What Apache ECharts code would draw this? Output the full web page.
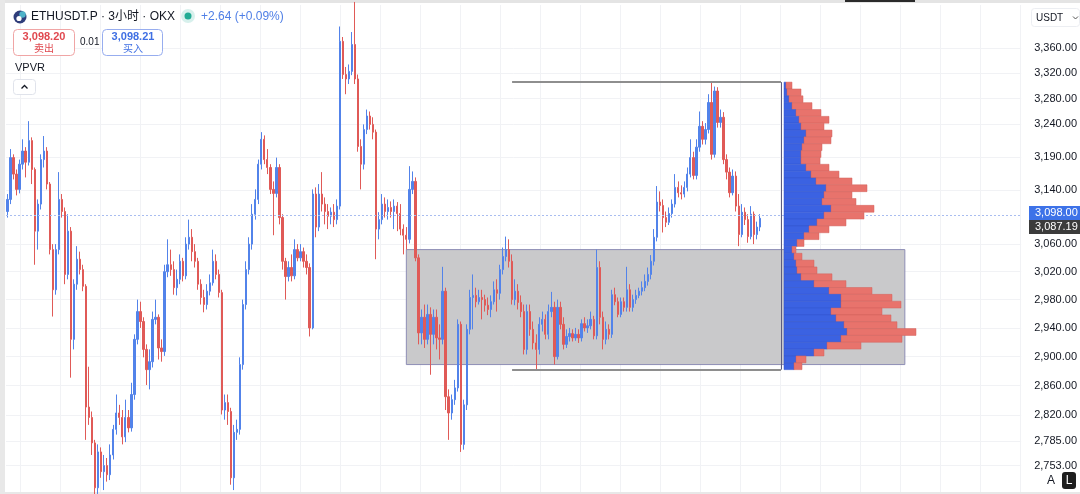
<!DOCTYPE html>
<html><head><meta charset="utf-8">
<script src="https://cdn.jsdelivr.net/npm/echarts@6/dist/echarts.min.js"></script>
<style>html,body{margin:0;padding:0;background:#fff}#c{width:1080px;height:494px}</style>
</head><body><div id="c"></div>
<script>
// ---- data: 3h candles [open, close, low, high] ----
const candles = [
[3108,3126,3099,3134],[3126,3189,3119,3202],[3189,3164,3156,3194],[3164,3141,3132,3171],[3141,3179,3135,3186],
[3179,3199,3171,3217],[3199,3182,3159,3205],[3182,3215,3177,3245],[3215,3171,3149,3220],[3171,3079,3030,3174],
[3079,3119,3052,3126],[3119,3186,3111,3194],[3186,3199,3174,3222],[3199,3149,3141,3205],[3149,3052,3045,3152],
[3052,2994,2956,3060],[2994,3052,2987,3060],[3052,3126,3045,3167],[3126,3108,3099,3134],[3108,3016,3002,3114],
[3016,3079,3009,3104],[3079,2924,2871,3085],[2924,3002,2910,3009],[3002,3038,2994,3057],[3038,3023,3016,3049],
[3023,2999,2992,3030],[2999,2831,2787,3002],[2831,2817,2807,2886],[2817,2783,2767,2825],[2783,2724,2715,2787],
[2724,2771,2716,2781],[2771,2745,2737,2777],[2745,2753,2721,2767],[2753,2741,2732,2763],[2741,2767,2734,2781],
[2767,2801,2761,2807],[2801,2823,2794,2848],[2823,2817,2807,2834],[2817,2791,2781,2827],[2791,2817,2784,2841],
[2817,2803,2797,2827],[2803,2848,2798,2864],[2848,2924,2841,2931],[2924,2963,2917,2980],[2963,2949,2940,2977],
[2949,2910,2899,2955],[2910,2882,2861,2917],[2882,2893,2855,2910],[2893,2952,2885,2963],[2952,2955,2945,2980],
[2955,2912,2896,2959],[2912,2907,2893,2924],[2907,3020,2901,3030],[3020,3030,3012,3067],[3030,3023,3014,3052],
[3023,2997,2987,3035],[2997,3009,2986,3023],[3009,3035,3002,3045],[3035,3014,3006,3040],[3014,3060,3009,3070],
[3060,3070,3052,3096],[3070,3049,3035,3082],[3049,3035,3026,3060],[3035,3002,2994,3040],[3002,2983,2973,3009],
[2983,2973,2962,2994],[2973,2992,2966,3002],[2992,3004,2986,3016],[3004,3035,3000,3052],[3035,3016,3009,3045],
[3016,2990,2983,3023],[2990,2827,2821,2994],[2827,2837,2814,2848],[2837,2825,2807,2848],[2825,2737,2728,2830],
[2737,2797,2721,2807],[2797,2801,2787,2814],[2801,2889,2794,2899],[2889,2973,2882,2980],[2973,3023,2966,3035],
[3023,3060,3016,3070],[3060,3104,3052,3119],[3104,3126,3096,3141],[3126,3179,3119,3186],[3179,3217,3171,3228],
[3217,3186,3179,3223],[3186,3174,3164,3202],[3174,3141,3134,3179],[3141,3135,3073,3153],[3135,3174,3129,3189],
[3174,3099,3089,3179],[3099,3035,3023,3104],[3035,3013,2980,3040],[3013,3026,3006,3035],[3026,3014,3006,3045],
[3014,3052,3009,3067],[3052,3040,3035,3060],[3040,3049,3035,3060],[3049,3035,3026,3055],[3035,3026,3016,3045],
[3026,2940,2928,3032],[2940,3134,2938,3141],[3134,3085,3070,3144],[3085,3134,3079,3149],[3134,3119,3108,3167],
[3119,3108,3089,3129],[3108,3101,3082,3119],[3101,3107,3089,3114],[3107,3096,3085,3119],[3096,3116,3089,3126],
[3116,3371,3111,3395],[3371,3318,3311,3378],[3318,3311,3287,3330],[3311,3323,3303,3334],[3323,3366,3317,3386],
[3366,3311,3303,3435],[3311,3206,3198,3318],[3206,3179,3141,3217],[3179,3232,3171,3240],[3232,3253,3225,3263],
[3253,3240,3232,3260],[3240,3228,3217,3251],[3228,3082,3038,3232],[3082,3096,3067,3107],[3096,3119,3089,3134],
[3119,3108,3099,3129],[3108,3114,3096,3126],[3114,3108,3099,3123],[3108,3116,3082,3126],[3116,3105,3079,3122],
[3105,3082,3073,3119],[3082,3073,3045,3089],[3073,3067,3052,3085],[3067,3141,3061,3176],[3141,3153,3134,3168],
[3153,3040,3035,3159],[3040,2933,2917,3045],[2933,2955,2917,2966],[2955,2924,2912,2973],[2924,2959,2917,2973],
[2959,2931,2875,2969],[2931,2955,2917,2966],[2955,2926,2910,2966],[2926,2924,2896,2945],[2924,2992,2917,3027],
[2992,2845,2827,2997],[2845,2823,2787,2855],[2823,2841,2814,2848],[2841,2857,2834,2868],[2857,2945,2852,2952],
[2945,2781,2771,2949],[2781,2834,2774,2841],[2834,2938,2827,2945],[2938,2983,2931,2994],[2983,2986,2938,3016],
[2986,2977,2969,2997],[2977,2983,2973,2994],[2983,2980,2952,2994],[2980,2972,2963,2987],[2972,2966,2958,2983],
[2966,2977,2955,2986],[2977,2994,2973,3006],[2994,2989,2963,3009],[2989,3023,2980,3030],[3023,3042,3016,3055],
[3042,3052,3035,3071],[3052,3035,3026,3067],[3035,2980,2973,3045],[2980,2992,2972,3009],[2992,2976,2966,3002],
[2976,2963,2955,2986],[2963,2910,2903,2973],[2910,2963,2903,2973],[2963,2938,2929,2973],[2938,2919,2910,2949],
[2919,2910,2882,2931],[2910,2945,2903,2955],[2945,2952,2935,2963],[2952,2931,2924,2959],[2931,2963,2924,2973],
[2963,2969,2955,2991],[2969,2900,2889,2977],[2900,2969,2896,2980],[2969,2945,2938,2977],[2945,2917,2910,2955],
[2917,2928,2912,2938],[2928,2932,2921,2940],[2932,2926,2921,2938],[2926,2931,2922,2940],[2931,2926,2919,2938],
[2926,2946,2921,2952],[2946,2940,2935,2955],[2940,2943,2933,2952],[2943,2952,2938,2963],[2952,2929,2924,2957],
[2929,3026,2924,3052],[3026,2955,2945,3035],[2955,2924,2910,2963],[2924,2938,2917,2949],[2938,2931,2924,2945],
[2931,2987,2926,2994],[2987,2977,2972,2997],[2977,2959,2955,2983],[2959,2977,2955,2983],[2977,2969,2963,2983],
[2969,2994,2963,3027],[2994,2969,2963,3002],[2969,2980,2963,2987],[2980,2986,2974,2994],[2986,2992,2982,2997],
[2992,2997,2986,3006],[2997,3006,2992,3016],[3006,3016,3000,3026],[3016,3035,3009,3044],[3035,3070,3029,3082],
[3070,3122,3064,3146],[3122,3117,3108,3138],[3117,3099,3077,3126],[3099,3092,3085,3108],[3092,3105,3088,3114],
[3105,3119,3099,3126],[3119,3144,3114,3164],[3144,3136,3129,3153],[3136,3134,3126,3147],[3134,3144,3129,3153],
[3144,3164,3138,3174],[3164,3189,3159,3217],[3189,3162,3156,3198],[3162,3205,3156,3217],[3205,3237,3198,3260],
[3237,3217,3209,3245],[3217,3232,3209,3242],[3232,3274,3226,3287],[3274,3194,3186,3306],[3194,3292,3189,3299],
[3292,3243,3235,3298],[3243,3251,3235,3263],[3251,3186,3179,3259],[3186,3167,3156,3194],[3167,3136,3129,3174],
[3136,3161,3132,3171],[3161,3116,3108,3168],[3116,3074,3057,3134],[3074,3107,3070,3119],[3107,3096,3088,3114],
[3096,3071,3062,3104],[3071,3104,3067,3116],[3104,3074,3060,3108],[3074,3085,3067,3093],[3085,3098,3079,3104]
];
// right price axis tick labels
const tickLabels = [3360, 3320, 3280, 3240, 3190, 3140, 3060, 3020, 2980, 2940, 2900, 2860, 2820, 2785, 2753];
// VPVR rows (top -> bottom), up volume and total volume (relative units)
const profileUp =    [2,3,5,8,12,15,17,22,20,18,17,17,22,27,32,42,40,38,47,40,33,25,20,13,8,10,12,13,17,30,45,57,57,47,52,60,63,57,43,30,12,10];
const profileTotal = [8,17,19,28,37,45,40,48,47,38,37,36,45,55,68,83,68,72,90,80,62,45,35,20,12,18,30,33,48,62,88,108,117,98,107,113,132,118,77,40,22,18];
const profileHigh = 3306, profileLow = 2882;
const valueAreaHigh = 3052, valueAreaLow = 2889;
const lastPrice = 3098.00, secondPrice = 3087.19;

// ---- layout constants ----
const NCAT = 336;
const BOX_FROM = 132, BOX_TO = 297, RANGE_FROM = 167, RANGE_TO = 256;
const Y_MIN = 2718.5, Y_MAX = 3430;
const FONT = '"Liberation Sans", Arial, "Noto Sans CJK SC", sans-serif';
const L = Math.log;
const fmt = v => v.toLocaleString('en-US', {minimumFractionDigits:2, maximumFractionDigits:2});

const chart = echarts.init(document.getElementById('c'), null, {renderer:'canvas'});
const cats = Array.from({length:NCAT}, (_, i) => String(i));
const candleData = candles.map(r => r.map(L));

const option = {
  animation:false,
  backgroundColor:'#ffffff',
  grid:[
    {left:6, right:58, top:5, bottom:2},
    {left:784, width:200, top:5, bottom:2},
    {left:20, right:60, top:5, bottom:2}
  ],
  xAxis:[
    {type:'category', data:cats, gridIndex:0, boundaryGap:true, show:true,
     axisLine:{show:false}, axisTick:{show:false}, axisLabel:{show:false}, splitLine:{show:false}},
    {type:'value', gridIndex:1, min:0, max:200, show:false},
    {type:'value', gridIndex:2, min:0, max:1000, interval:40,
     axisLine:{show:false}, axisTick:{show:false}, axisLabel:{show:false},
     splitLine:{show:true, lineStyle:{color:'#f1f2f5', width:1}}}
  ],
  yAxis:[
    {type:'value', gridIndex:0, position:'right', min:L(Y_MIN), max:L(Y_MAX), scale:true,
     axisLine:{show:false},
     axisTick:{show:false, customValues:tickLabels.map(L)},
     axisLabel:{show:true, customValues:tickLabels.map(L), margin:13, color:'#131722', fontSize:11, fontFamily:FONT,
       formatter: v => fmt(Math.exp(v))},
     splitLine:{show:true, lineStyle:{color:'#f1f2f5', width:1}}},
    {type:'value', gridIndex:1, min:L(Y_MIN), max:L(Y_MAX), show:false},
    {type:'value', gridIndex:2, min:0, max:1, show:false}
  ],
  series:[
    {type:'line', xAxisIndex:2, yAxisIndex:2, data:[], silent:true},
    {type:'line', xAxisIndex:0, yAxisIndex:0, data:[], z:1, silent:true,
     markArea:{silent:true, itemStyle:{color:'#c9c9cb', borderColor:'#8d8db5', borderWidth:1},
       data:[[{coord:[BOX_FROM, L(valueAreaHigh)]},{coord:[BOX_TO, L(valueAreaLow)]}]]}},
    {type:'candlestick', xAxisIndex:0, yAxisIndex:0, z:3, barWidth:1.8, data:candleData,
     itemStyle:{color:'#5283ea', color0:'#e05a57', borderColor:'#5283ea', borderColor0:'#e05a57', borderWidth:1},
     markLine:{silent:true, symbol:'none', label:{show:false},
       lineStyle:{color:'#a9bdf0', type:[2,2], width:1},
       data:[{yAxis:L(lastPrice)}]}},
    {type:'line', xAxisIndex:0, yAxisIndex:0, data:[], z:4, silent:true,
     markLine:{silent:true, symbol:'none', label:{show:false},
       data:[
         [{coord:[RANGE_FROM, L(profileHigh)], lineStyle:{color:'#8e8e8e', width:2, type:'solid'}},{coord:[RANGE_TO, L(profileHigh)]}],
         [{coord:[RANGE_FROM, L(profileLow)], lineStyle:{color:'#8e8e8e', width:2, type:'solid'}},{coord:[RANGE_TO, L(profileLow)]}],
         [{coord:[RANGE_TO, L(profileHigh)], lineStyle:{color:'#5c5c80', width:1, type:'solid'}},{coord:[RANGE_TO, L(profileLow)]}]
       ]}},
    {type:'custom', xAxisIndex:1, yAxisIndex:1, z:5, silent:true,
     data: profileUp.map((u, k) => [k, u, profileTotal[k]]),
     renderItem(params, api){
       const k = api.value(0), u = api.value(1), t = api.value(2);
       const step = (L(profileHigh) - L(profileLow)) / profileUp.length;
       const yt = L(profileHigh) - k*step, yb = yt - step;
       const p0 = api.coord([0, yt]), p1 = api.coord([u, yb]), p2 = api.coord([t, yb]);
       const h = p1[1] - p0[1];
       return {type:'group', children:[
         {type:'rect', shape:{x:p0[0], y:p0[1], width:p1[0]-p0[0], height:h}, style:{fill:'#3b62e2', stroke:'#3457cf', lineWidth:0.5}},
         {type:'rect', shape:{x:p1[0], y:p0[1], width:p2[0]-p1[0], height:h}, style:{fill:'#e8736c', stroke:'#d2625c', lineWidth:0.5}}
       ]};
     }}
  ]
};
chart.setOption(option);

// ---- overlays (header, price tags, buttons) ----
const y1 = chart.convertToPixel({yAxisIndex:0}, L(lastPrice));
const y2 = chart.convertToPixel({yAxisIndex:0}, L(secondPrice));
const tag1Top = Math.round(y1) - 12;
const tag2Top = Math.max(tag1Top + 14, Math.round(y2) - 7);
const txt = (x, y, s, size, color, extra) => ({type:'text', x, y, style:Object.assign({text:s, fontSize:size, fill:color, fontFamily:FONT, verticalAlign:'middle'}, extra||{})});
chart.setOption({graphic:[
  {type:'rect', shape:{x:0, y:0, width:1080, height:3}, style:{fill:'#e4e4e4'}},
  {type:'rect', shape:{x:845, y:0, width:70, height:2}, style:{fill:'#2a2a2a'}},
  {type:'rect', shape:{x:0, y:0, width:5, height:494}, style:{fill:'#e8e8e8'}},
  {type:'rect', shape:{x:0, y:492, width:1080, height:2}, style:{fill:'#e8e8e8'}},
  // header
  {type:'circle', shape:{cx:20, cy:17, r:6.5}, style:{fill:'#2f3d7a'}},
  {type:'circle', shape:{cx:22.5, cy:14.5, r:3.2}, style:{fill:'#4fb3c9'}},
  {type:'circle', shape:{cx:19, cy:18.5, r:2.6}, style:{fill:'#ffffff'}},
  txt(31, 17, 'ETHUSDT.P · 3小时 · OKX', 12, '#131722'),
  {type:'circle', shape:{cx:188, cy:16, r:7}, style:{fill:'rgba(34,171,148,0.18)'}},
  {type:'circle', shape:{cx:188, cy:16, r:3.5}, style:{fill:'#22ab94'}},
  txt(201, 17, '+2.64 (+0.09%)', 12, '#4f7fe6'),
  {type:'rect', shape:{x:13.5, y:29.5, width:61, height:26, r:4}, style:{fill:'#fff', stroke:'#f0a5a5', lineWidth:1}},
  txt(44, 37, '3,098.20', 11, '#e0484f', {align:'center', fontWeight:'bold'}),
  txt(44, 49, '卖出', 10, '#e0484f', {align:'center'}),
  txt(80, 42, '0.01', 10, '#131722'),
  {type:'rect', shape:{x:102.5, y:29.5, width:60, height:26, r:4}, style:{fill:'#fff', stroke:'#97adef', lineWidth:1}},
  txt(133, 37, '3,098.21', 11, '#3f6fe3', {align:'center', fontWeight:'bold'}),
  txt(133, 49, '买入', 10, '#3f6fe3', {align:'center'}),
  txt(15, 68, 'VPVR', 11, '#131722'),
  {type:'rect', shape:{x:13.5, y:79.5, width:22, height:15, r:3}, style:{fill:'#fff', stroke:'#e0e3eb', lineWidth:1}},
  {type:'polyline', shape:{points:[[21.5,88.5],[24.5,85.5],[27.5,88.5]]}, style:{stroke:'#131722', lineWidth:1.3, fill:null}},
  // currency box
  {type:'rect', shape:{x:1031.5, y:8.5, width:48, height:18, r:3}, style:{fill:'#fff', stroke:'#eceef2', lineWidth:1}},
  txt(1036, 18, 'USDT', 10, '#131722'),
  {type:'polyline', shape:{points:[[1073,16.5],[1075.5,19],[1078,16.5]]}, style:{stroke:'#555', lineWidth:1, fill:null}},
  // price tags
  {type:'rect', shape:{x:1029, y:tag1Top, width:51, height:14}, style:{fill:'#3d72e8'}},
  txt(1035, tag1Top+7, fmt(lastPrice), 11, '#ffffff'),
  {type:'rect', shape:{x:1029, y:tag2Top, width:51, height:14}, style:{fill:'#3b3b3b'}},
  txt(1035, tag2Top+7, fmt(secondPrice), 11, '#ffffff'),
  // A / L buttons
  {type:'rect', shape:{x:1044, y:472, width:14, height:17, r:3}, style:{fill:'#ffffff'}},
  txt(1051, 481, 'A', 12, '#131722', {align:'center'}),
  {type:'rect', shape:{x:1062, y:472, width:14, height:17, r:3}, style:{fill:'#1e1e1e'}},
  txt(1069, 481, 'L', 12, '#ffffff', {align:'center'})
]});
</script>
</body></html>
